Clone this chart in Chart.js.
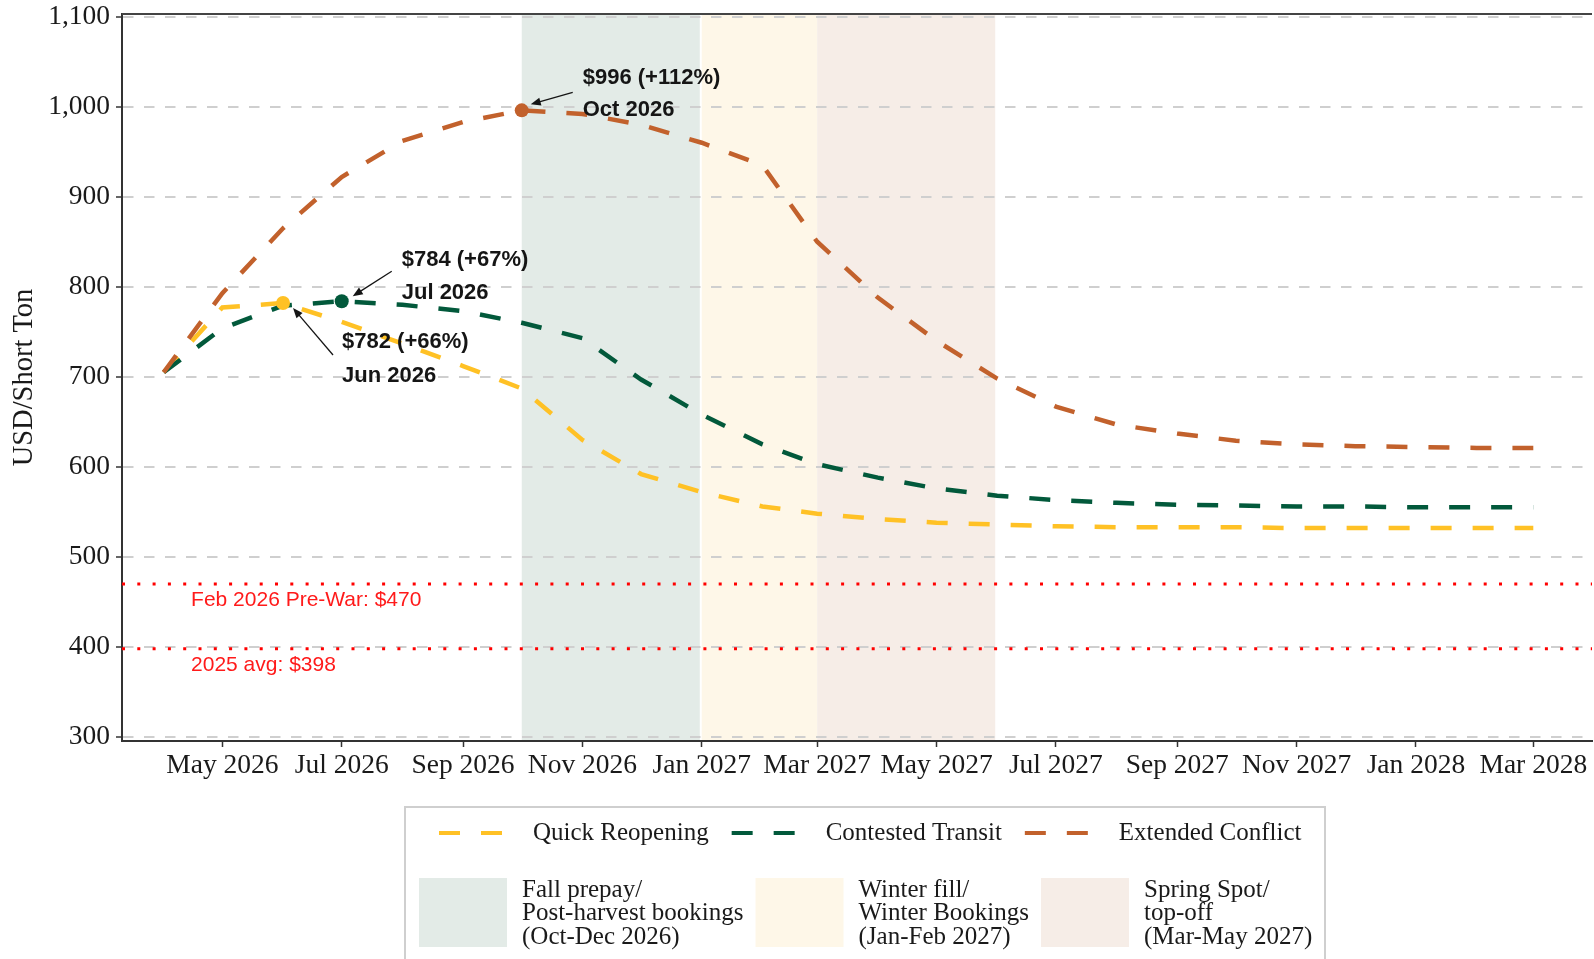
<!DOCTYPE html>
<html>
<head>
<meta charset="utf-8">
<script src="https://cdn.jsdelivr.net/npm/chart.js@4.4.1/dist/chart.umd.min.js"></script>
<style>
  html, body { margin: 0; padding: 0; background: #fff; overflow: hidden; }
  #wrap { width: 1594px; height: 959px; overflow: hidden; }
</style>
</head>
<body>
<div id="wrap"><canvas id="chart" width="1599" height="959"></canvas></div>
<script>
// monthly scenario prices, USD/short ton (first of each month)
const months = ["2026-04", "2026-05", "2026-06", "2026-07", "2026-08", "2026-09", "2026-10", "2026-11",
  "2026-12", "2027-01", "2027-02", "2027-03", "2027-04", "2027-05", "2027-06", "2027-07", "2027-08",
  "2027-09", "2027-10", "2027-11", "2027-12", "2028-01", "2028-02", "2028-03"];
const quickReopening = [705, 777, 782, 761, 737, 712, 687, 630, 592, 572, 556, 548,
  542, 538, 536, 534, 533, 533, 533, 532, 532, 532, 532, 532];
const contestedTransit = [705, 754, 779, 784, 780, 773, 760, 743, 697, 658, 625, 603,
  588, 576, 568, 563, 560, 558, 557, 556, 556, 555, 555, 555];
const extendedConflict = [705, 793, 865, 922, 962, 983, 996, 992, 980, 960, 935, 850,
  788, 740, 698, 667, 647, 637, 629, 625, 623, 622, 621, 621];

const preWarPrice = 470;
const avg2025Price = 398;
const preWarLabel = "Feb 2026 Pre-War: $";
const avgLabel = "2025 avg: $";

const xTickMonths = ["2026-05", "2026-07", "2026-09", "2026-11", "2027-01", "2027-03",
  "2027-05", "2027-07", "2027-09", "2027-11", "2028-01", "2028-03"];
const yTicks = [300, 400, 500, 600, 700, 800, 900, 1000, 1100];

const seasonNames = [
  ["Fall prepay/", "Post-harvest bookings", "(Oct-Dec 2026)"],
  ["Winter fill/", "Winter Bookings", "(Jan-Feb 2027)"],
  ["Spring Spot/", "top-off", "(Mar-May 2027)"]
];
const seasonStarts = ["2026-10-01", "2027-01-01", "2027-03-01"];
const seasonEnds = ["2026-12-31", "2027-03-01", "2027-05-31"];

const monthNames = ["Jan", "Feb", "Mar", "Apr", "May", "Jun", "Jul", "Aug", "Sep", "Oct", "Nov", "Dec"];

function dayOf(s) {
  const p = s.split("-").map(Number);
  return (Date.UTC(p[0], p[1] - 1, p[2] || 1) - Date.UTC(2026, 3, 1)) / 864e5;
}
function monthLabel(s) {
  const p = s.split("-");
  return monthNames[+p[1] - 1] + " " + p[0];
}
function toPoints(vals) {
  return vals.map((v, i) => ({ x: dayOf(months[i]), y: v }));
}
function peakIndex(vals) {
  let best = 0;
  vals.forEach((v, i) => { if (v > vals[best]) best = i; });
  return best;
}

const YELLOW = "#FFC125", GREEN = "#02593B", ORANGE = "#C2612C";
const SEASON_COLORS = ["#E3EBE7", "#FEF7E8", "#F6EDE7"];
const SERIF = "'Liberation Serif', 'Times New Roman', serif";
const SANS = "'Liberation Sans', Arial, sans-serif";
const X_MIN = -21.3, X_MAX = 730;

const series = [
  { name: "Quick Reopening", values: quickReopening, color: YELLOW,
    note: { dx: 59, dy1: 39, dy2: 73, ax: 50, ay: 52, bx: 10, by: 5 } },
  { name: "Contested Transit", values: contestedTransit, color: GREEN,
    note: { dx: 60, dy1: -41, dy2: -8, ax: 50, ay: -30, bx: 11, by: -5 } },
  { name: "Extended Conflict", values: extendedConflict, color: ORANGE,
    note: { dx: 61, dy1: -32, dy2: 0, ax: 51, ay: -18, bx: 9, by: -6 } }
];

const peakPoints = series.map(s => {
  const i = peakIndex(s.values);
  return { x: dayOf(months[i]), y: s.values[i] };
});

function lineDataset(s) {
  return {
    label: s.name, data: toPoints(s.values), borderColor: s.color, borderWidth: 4.5,
    borderDash: [21, 21], borderCapStyle: "butt", pointRadius: 0, tension: 0, fill: false
  };
}
function refDataset(v) {
  return {
    label: "ref" + v, data: [{ x: X_MIN, y: v }, { x: X_MAX, y: v }], borderColor: "#FF0000",
    borderWidth: 3, borderDash: [3, 12.3], pointRadius: 0, fill: false
  };
}

const seasonPlugin = {
  id: "seasons",
  beforeDraw(chart) {
    const { ctx, chartArea, scales } = chart;
    ctx.save();
    seasonStarts.forEach((s, i) => {
      const x1 = scales.x.getPixelForValue(dayOf(s));
      const x2 = scales.x.getPixelForValue(dayOf(seasonEnds[i]));
      ctx.fillStyle = SEASON_COLORS[i];
      ctx.fillRect(x1, chartArea.top, x2 - x1, chartArea.bottom - chartArea.top);
    });
    ctx.restore();
  }
};

function arrow(ctx, x1, y1, x2, y2) {
  const ang = Math.atan2(y2 - y1, x2 - x1);
  ctx.beginPath();
  ctx.moveTo(x1, y1);
  ctx.lineTo(x2 - 8 * Math.cos(ang), y2 - 8 * Math.sin(ang));
  ctx.stroke();
  ctx.beginPath();
  ctx.moveTo(x2, y2);
  ctx.lineTo(x2 - 10 * Math.cos(ang) + 4 * Math.sin(ang), y2 - 10 * Math.sin(ang) - 4 * Math.cos(ang));
  ctx.lineTo(x2 - 10 * Math.cos(ang) - 4 * Math.sin(ang), y2 - 10 * Math.sin(ang) + 4 * Math.cos(ang));
  ctx.closePath();
  ctx.fill();
}

const notesPlugin = {
  id: "notes",
  afterDatasetsDraw(chart) {
    const { ctx, scales, chartArea } = chart;
    ctx.save();
    // top frame line
    ctx.strokeStyle = "#444";
    ctx.lineWidth = 2;
    ctx.beginPath();
    ctx.moveTo(chartArea.left, chartArea.top);
    ctx.lineTo(chartArea.right, chartArea.top);
    ctx.stroke();

    // reference line labels
    ctx.fillStyle = "#FF1A1A";
    ctx.font = "21px " + SANS;
    ctx.textBaseline = "middle";
    ctx.textAlign = "left";
    const lx = scales.x.getPixelForValue(dayOf("2026-04-15"));
    ctx.fillText(preWarLabel + preWarPrice, lx, scales.y.getPixelForValue(preWarPrice) + 16);
    ctx.fillText(avgLabel + avg2025Price, lx, scales.y.getPixelForValue(avg2025Price) + 16);

    // peak annotations
    ctx.fillStyle = "#151515";
    ctx.strokeStyle = "#151515";
    ctx.lineWidth = 1.3;
    ctx.font = "bold 22px " + SANS;
    series.forEach(s => {
      const i = peakIndex(s.values);
      const v = s.values[i];
      const px = scales.x.getPixelForValue(dayOf(months[i]));
      const py = scales.y.getPixelForValue(v);
      const n = s.note;
      const pct = Math.round((v / preWarPrice - 1) * 100);
      ctx.fillText("$" + v + " (+" + pct + "%)", px + n.dx, py + n.dy1);
      ctx.fillText(monthLabel(months[i]), px + n.dx, py + n.dy2);
      arrow(ctx, px + n.ax, py + n.ay, px + n.bx, py + n.by);
    });
    ctx.restore();
  }
};

const legendPlugin = {
  id: "customLegend",
  afterDraw(chart) {
    const ctx = chart.ctx;
    ctx.save();
    ctx.strokeStyle = "#CFCFCF";
    ctx.lineWidth = 2;
    ctx.strokeRect(405, 807, 920, 170);

    ctx.font = "25px " + SERIF;
    ctx.fillStyle = "#1a1a1a";
    ctx.textBaseline = "middle";
    ctx.textAlign = "left";
    let x = 439;
    series.forEach(s => {
      ctx.strokeStyle = s.color;
      ctx.lineWidth = 4;
      ctx.setLineDash([21, 21]);
      ctx.beginPath();
      ctx.moveTo(x, 833);
      ctx.lineTo(x + 64, 833);
      ctx.stroke();
      ctx.setLineDash([]);
      ctx.fillText(s.name, x + 94, 833);
      x += 94 + ctx.measureText(s.name).width + 23;
    });

    x = 419;
    seasonNames.forEach((lines, i) => {
      ctx.fillStyle = SEASON_COLORS[i];
      ctx.fillRect(x, 878, 88, 69);
      ctx.fillStyle = "#1a1a1a";
      let w = 0;
      lines.forEach((t, j) => {
        ctx.fillText(t, x + 103, 890 + j * 23.5);
        w = Math.max(w, ctx.measureText(t).width);
      });
      x += 103 + w + 12;
    });
    ctx.restore();
  }
};

const datasets = [
  {
    label: "peaks", data: peakPoints, showLine: false, pointRadius: 7, pointHoverRadius: 7,
    pointBackgroundColor: series.map(s => s.color), pointBorderWidth: 0
  },
  lineDataset(series[2]),
  lineDataset(series[1]),
  lineDataset(series[0]),
  refDataset(preWarPrice),
  refDataset(avg2025Price)
];

new Chart(document.getElementById("chart").getContext("2d"), {
  type: "line",
  data: { datasets: datasets },
  plugins: [seasonPlugin, notesPlugin, legendPlugin],
  options: {
    responsive: false,
    devicePixelRatio: 1,
    animation: false,
    layout: { padding: { top: 14, right: 0, bottom: 168, left: 0 } },
    plugins: { legend: { display: false }, tooltip: { enabled: false } },
    scales: {
      x: {
        type: "linear",
        min: X_MIN,
        max: X_MAX,
        afterBuildTicks: (scale) => { scale.ticks = xTickMonths.map(m => ({ value: dayOf(m) })); },
        afterFit: (scale) => { scale.height = 50; scale.paddingLeft = 0; scale.paddingRight = 0; },
        ticks: {
          autoSkip: false, maxRotation: 0, padding: 2, color: "#1a1a1a",
          font: { family: SERIF, size: 27.5 },
          callback: (v, i) => monthLabel(xTickMonths[i])
        },
        grid: { drawOnChartArea: false, drawTicks: true, tickLength: 6, tickColor: "#333", tickWidth: 1.5 },
        border: { display: true, color: "#333", width: 2 }
      },
      y: {
        min: 295.5,
        max: 1103,
        afterBuildTicks: (scale) => { scale.ticks = yTicks.map(v => ({ value: v })); },
        afterFit: (scale) => { scale.width = 122; scale.paddingTop = 0; scale.paddingBottom = 0; },
        ticks: {
          padding: 6, color: "#1a1a1a",
          font: { family: SERIF, size: 27.5, lineHeight: 0.8 },
          callback: (v) => v.toLocaleString("en-US")
        },
        grid: { color: "#CFCFCF", lineWidth: 2, drawTicks: true, tickLength: 6, tickColor: "#333", tickWidth: 1.5 },
        border: { display: true, color: "#333", width: 2, dash: [10.5, 10.5] },
        title: {
          display: true, text: "USD/Short Ton", color: "#1a1a1a",
          font: { family: SERIF, size: 28.5, lineHeight: 1.2 },
          padding: { top: 7, bottom: 0 }
        }
      }
    }
  }
});
</script>
</body>
</html>
